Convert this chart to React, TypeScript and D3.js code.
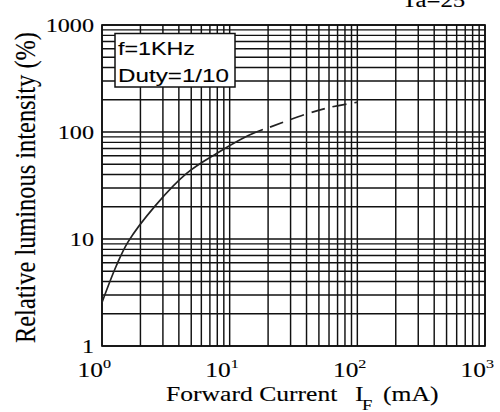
import React from "react";
import * as d3 from "d3";

// ---- data ----
const xTickExponents = [0, 1, 2, 3];
const yTickValues = [1, 10, 100, 1000];
const yTickLabels = ["1", "10", "100", "1000"];
// solid part of the curve
const solidCurrent = [1, 1.29, 1.6, 2.6, 4.6, 7.9, 14, 18.2];
const solidIntensity = [2.55, 5.56, 9.4, 20.3, 41, 63, 92.7, 105.5];
// dashed (extrapolated) part
const dashCurrent = [20.7, 38.9, 61, 101];
const dashIntensity = [111, 146, 170, 190];
const noteLines = ["f=1KHz", "Duty=1/10"];
const tempLabel = "Ta=25";

const W = 500;
const H = 412;
const M = { left: 102, right: 15, top: 25, bottom: 66 };

export default function App() {
  const x = d3.scaleLog().domain([1, 1000]).range([M.left, W - M.right]);
  const y = d3.scaleLog().domain([1, 1000]).range([H - M.bottom, M.top]);

  const minors: number[] = [];
  for (let d = 0; d < 3; d++) {
    for (let k = 1; k <= 10; k++) minors.push(k * Math.pow(10, d));
  }
  const gridVals = Array.from(new Set(minors));

  const line = d3
    .line<[number, number]>()
    .x((d) => x(d[0]))
    .y((d) => y(d[1]))
    .curve(d3.curveCatmullRom.alpha(0.5));

  const solidPts = solidCurrent.map((c, i) => [c, solidIntensity[i]] as [number, number]);
  const dashPts = dashCurrent.map((c, i) => [c, dashIntensity[i]] as [number, number]);

  const serif = "'Liberation Serif', 'Times New Roman', serif";
  const sans = "'Liberation Sans', Arial, sans-serif";
  const S = 1.24;
  const ink = "#000";
  const txt = { fill: ink, stroke: ink, strokeWidth: 0.12 };

  return (
    <svg
      width={W}
      height={H}
      style={{ position: "absolute", left: 0, top: 0, background: "#fff" }}
    >
      <rect x={0} y={0} width={W} height={H} fill="#fff" />
      {/* grid */}
      <g stroke="#111" strokeWidth={1.45}>
        {gridVals.map((v) => (
          <line key={"v" + v} x1={x(v)} x2={x(v)} y1={y(1)} y2={y(1000)} />
        ))}
        {gridVals.map((v) => (
          <line key={"h" + v} y1={y(v)} y2={y(v)} x1={x(1)} x2={x(1000)} />
        ))}
      </g>
      <rect
        x={x(1)}
        y={y(1000)}
        width={x(1000) - x(1)}
        height={y(1) - y(1000)}
        fill="none"
        stroke="#111"
        strokeWidth={1.7}
      />
      {/* curve */}
      <path d={line(solidPts) || ""} fill="none" stroke="#222" strokeWidth={1.7} />
      <path
        d={line(dashPts) || ""}
        fill="none"
        stroke="#222"
        strokeWidth={1.7}
        strokeDasharray="14,8"
      />
      {/* note box */}
      <rect x={115} y={33.5} width={120} height={53.5} fill="#fff" stroke="#111" strokeWidth={1.5} />
      <text x={118} y={55} fontFamily={sans} fontSize={18.5} textLength={77} lengthAdjust="spacingAndGlyphs" {...txt}>
        {noteLines[0]}
      </text>
      <text x={118} y={81.5} fontFamily={sans} fontSize={18.5} textLength={111} lengthAdjust="spacingAndGlyphs" {...txt}>
        {noteLines[1]}
      </text>
      {/* Ta label (cut at top edge as in the original) */}
      <text transform={`translate(402,6.5) scale(${S},1)`} fontFamily={serif} fontSize={20} {...txt}>
        {tempLabel}
      </text>
      {/* y tick labels */}
      {yTickValues.map((v, i) => (
        <text
          key={"yl" + v}
          transform={`translate(${M.left - 8},${y(v) + 6.5}) scale(${S},1)`}
          textAnchor="end"
          fontFamily={serif}
          fontSize={19.5}
          {...txt}
        >
          {yTickLabels[i]}
        </text>
      ))}
      {/* x tick labels */}
      {xTickExponents.map((e) => {
        const px = x(Math.pow(10, e));
        return (
          <g key={"xl" + e}>
            <text
              transform={`translate(${px + 1},${376.5}) scale(${S},1)`}
              textAnchor="end"
              fontFamily={serif}
              fontSize={20.5}
              {...txt}
            >
              10
            </text>
            <text
              transform={`translate(${px + 1},${368}) scale(${S},1)`}
              fontFamily={serif}
              fontSize={13}
              {...txt}
            >
              {String(e)}
            </text>
          </g>
        );
      })}
      {/* x axis label */}
      <text transform={`translate(166,401) scale(1.22,1)`} fontFamily={serif} fontSize={21} {...txt}>
        Forward Current
      </text>
      <text transform={`translate(355,401) scale(${S},1)`} fontFamily={serif} fontSize={21} {...txt}>
        I
      </text>
      <text transform={`translate(362,409.5) scale(${S},1)`} fontFamily={serif} fontSize={15} {...txt}>
        F
      </text>
      <text transform={`translate(383,401) scale(1.22,1)`} fontFamily={serif} fontSize={21} {...txt}>
        (mA)
      </text>
      {/* y axis label */}
      <text
        transform={`translate(35,187.5) scale(${S},1) rotate(-90)`}
        textAnchor="middle"
        fontFamily={serif}
        fontSize={23.5}
        textLength={311}
        lengthAdjust="spacingAndGlyphs"
        {...txt}
      >
        Relative luminous intensity (%)
      </text>
    </svg>
  );
}
